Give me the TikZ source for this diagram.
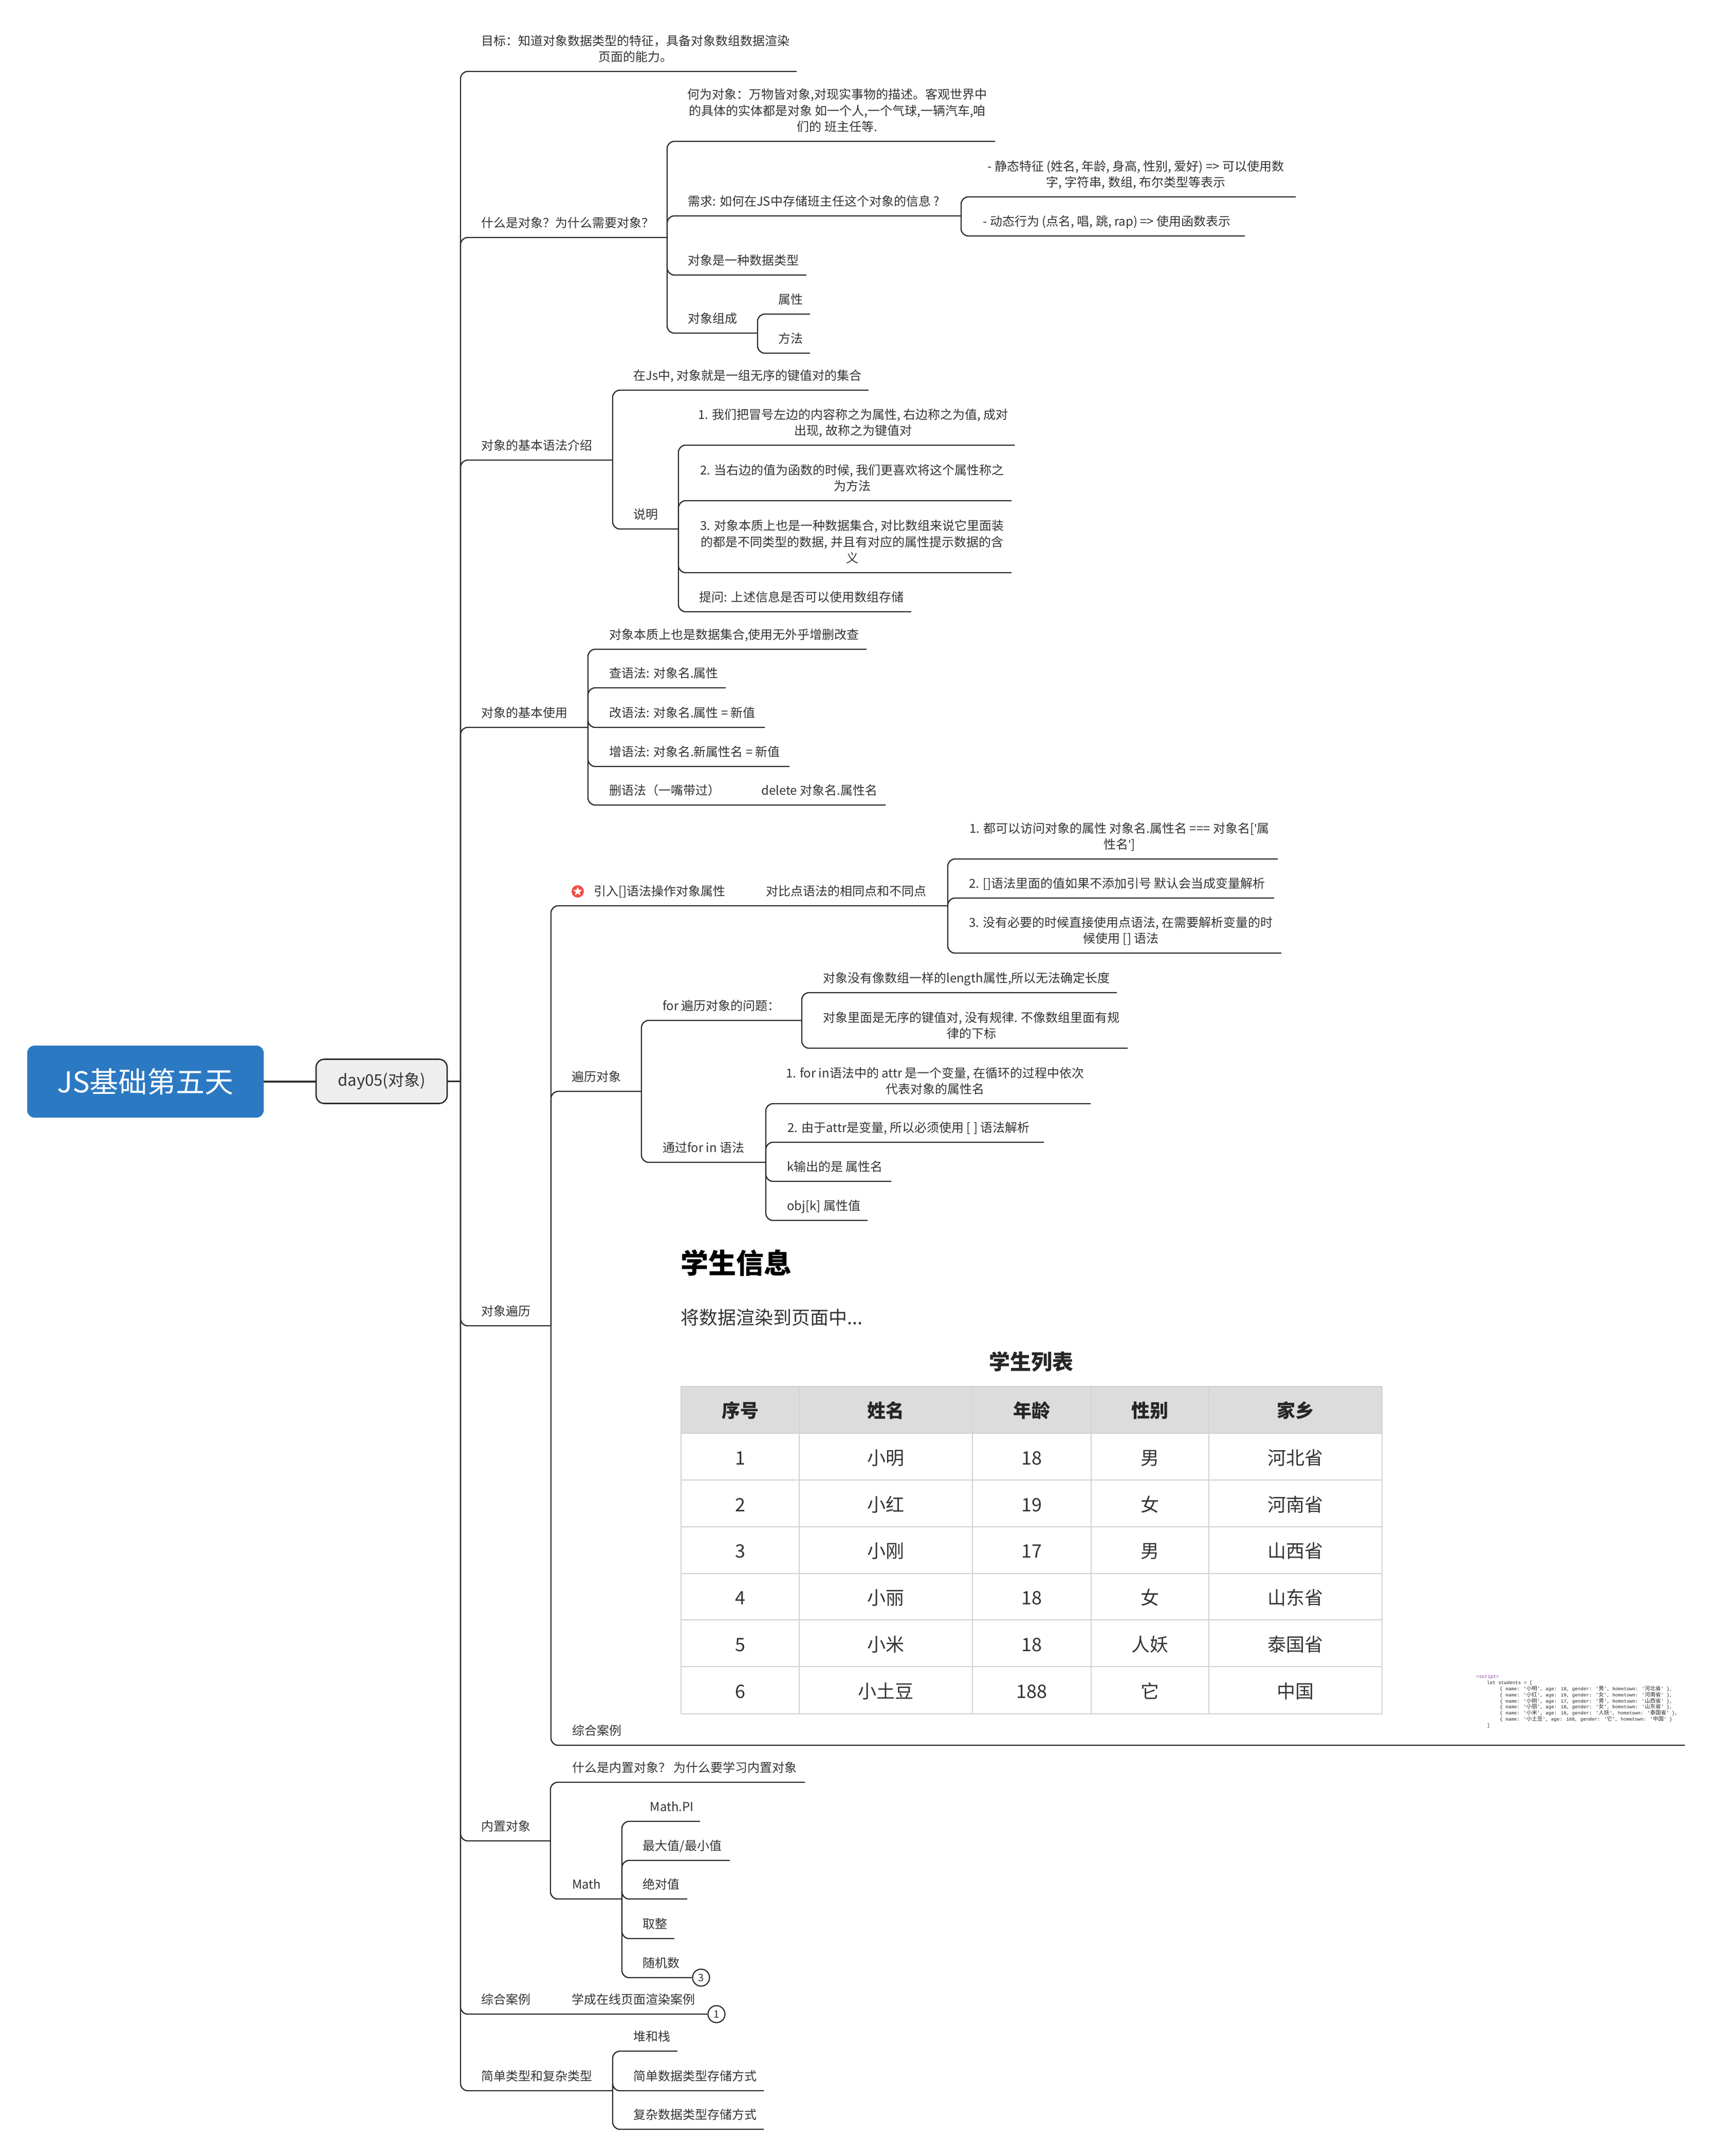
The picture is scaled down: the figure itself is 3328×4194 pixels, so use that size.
\documentclass[tikz,border=0pt]{standalone}
\usepackage{fontspec}
\usetikzlibrary{shapes.geometric}
\setmainfont{Noto Sans CJK SC}
\newfontfamily\zhcode{Noto Sans CJK SC}
\newfontfamily\codefont{Liberation Mono}
\newfontfamily\quotefont{Open Sans}
\definecolor{ink}{HTML}{333333}
\definecolor{linec}{HTML}{2B2B2B}
\definecolor{rootblue}{HTML}{2B79C2}
\definecolor{dayfill}{HTML}{EEEEEE}
\definecolor{gridc}{HTML}{D2D2D2}
\definecolor{headc}{HTML}{DCDCDC}
\definecolor{scriptc}{HTML}{8A3A9A}
\definecolor{badgec}{HTML}{F44B42}
\tikzset{
  link/.style={draw=linec,line width=2.3pt,rounded corners=14pt},
  lbl/.style={inner sep=0pt,text=ink,align=center,font=\fontsize{24}{31.5}\selectfont},
  cellt/.style={inner sep=0pt,text=ink,anchor=base,font=\fontsize{36}{40}\selectfont},
  headt/.style={inner sep=0pt,text=black!85,anchor=base,font=\fontsize{36}{40}\selectfont\bfseries},
  codet/.style={inner sep=0pt,anchor=base west,text=black!85,font=\fontsize{9.2}{11}\codefont},
  count/.style={circle,draw=linec,line width=2.2pt,fill=white,minimum size=33pt,inner sep=0pt,text=ink,font=\fontsize{20}{22}\selectfont}
}
% name, line end x, line y, text left x, text
\newcommand{\topic}[5]{\coordinate (#1-e) at (#2,#3);\node[lbl,anchor=base west] (#1) at (#4,#3-19.5) {#5};}
% name, line end x, line y, text centre x, text
\newcommand{\topicc}[5]{\coordinate (#1-e) at (#2,#3);\node[lbl,anchor=base] (#1) at (#4,#3-19.5) {#5};}
\newcommand{\branch}[2]{\draw[link] (#1-e) |- (#2-e);}
\newcommand{\trow}[7]{%
 \node[cellt] (r#1a) at (1440,#2) {#3};
 \node[cellt] (r#1b) at (1723.5,#2) {#4};
 \node[cellt] (r#1c) at (2007,#2) {#5};
 \node[cellt] (r#1d) at (2237,#2) {#6};
 \node[cellt] (r#1e) at (2520.5,#2) {#7};}
\begin{document}
\begin{tikzpicture}[x=1pt,y=-1pt]
\fill[white] (0,0) rectangle (3328,4194);
\useasboundingbox (0,0) rectangle (3328,4194);

% centre
\node[fill=rootblue,rounded corners=14pt,minimum width=460pt,minimum height=140pt,inner sep=0pt,text=white,font=\fontsize{56}{60}\selectfont] (root) at (283,2104) {JS基础第五天};
\node[fill=dayfill,draw=linec,line width=2.6pt,rounded corners=16pt,minimum width=255pt,minimum height=86pt,inner sep=0pt,text=ink,font=\fontsize{31}{36}\selectfont] (day) at (742.5,2103.5) {day05(对象)};
\draw[ink,line width=4pt] (root.east|-day.west) -- (day.west);
\coordinate (day-e) at (896,2103.5);
\draw[link] (day.east) -- (day-e);

% level 1
\topicc{goal}{1550}{139}{1236}{目标：知道对象数据类型的特征，具备对象数组数据渲染\\页面的能力。}
\topic{what}{1298}{462}{936}{什么是对象？为什么需要对象？}
\topic{syntax}{1192}{895}{936}{对象的基本语法介绍}
\topic{basic}{1144}{1415}{936}{对象的基本使用}
\topic{trav}{1072}{2579}{936}{对象遍历}
\topic{builtin}{1071}{3581}{936}{内置对象}
\topic{caseb}{1394}{3918}{936}{综合案例}
\topic{simple}{1192}{4067}{936}{简单类型和复杂类型}
\foreach \c in {goal,what,syntax,basic,trav,builtin,simple}{\branch{day}{\c}}
\node[count] (count1) at (1394,3918) {1};
\draw[link] (day-e) |- (count1.west);
\node[lbl,anchor=base west] (caset) at (1112,3898.5) {学成在线页面渲染案例};

% what
\topicc{w1}{1936}{275}{1629}{何为对象：万物皆对象,对现实事物的描述。客观世界中\\的具体的实体都是对象 如一个人,一个气球,一辆汽车,咱\\们的 班主任等.}
\topic{w2}{1870}{420}{1338}{需求: 如何在JS中存储班主任这个对象的信息 ?}
\topic{w3}{1569}{535}{1338}{对象是一种数据类型}
\topic{w4}{1474}{648}{1338}{对象组成}
\foreach \c in {w1,w2,w3,w4}{\branch{what}{\c}}
\topicc{w2a}{2521}{383}{2210}{- 静态特征 (姓名, 年龄, 身高, 性别, 爱好) => 可以使用数\\字, 字符串, 数组, 布尔类型等表示}
\topic{w2b}{2422}{459}{1912.5}{- 动态行为 (点名, 唱, 跳, rap) => 使用函数表示}
\branch{w2}{w2a}\branch{w2}{w2b}
\topic{w4a}{1576}{611}{1514.5}{属性}
\topic{w4b}{1576}{687}{1514.5}{方法}
\branch{w4}{w4a}\branch{w4}{w4b}

% syntax
\topic{s1}{1690}{759}{1232.5}{在Js中, 对象就是一组无序的键值对的集合}
\topic{s2}{1320}{1029}{1232.5}{说明}
\branch{syntax}{s1}\branch{syntax}{s2}
\topicc{s2a}{1974}{866}{1660}{1. 我们把冒号左边的内容称之为属性, 右边称之为值, 成对\\出现, 故称之为键值对}
\topicc{s2b}{1968}{974}{1658}{2. 当右边的值为函数的时候, 我们更喜欢将这个属性称之\\为方法}
\topicc{s2c}{1968}{1114}{1658}{3. 对象本质上也是一种数据集合, 对比数组来说它里面装\\的都是不同类型的数据, 并且有对应的属性提示数据的含\\义}
\topic{s2d}{1773}{1190}{1360.5}{提问: 上述信息是否可以使用数组存储}
\foreach \c in {s2a,s2b,s2c,s2d}{\branch{s2}{\c}}

% basic
\topic{b1}{1686}{1263}{1185}{对象本质上也是数据集合,使用无外乎增删改查}
\topic{b2}{1412}{1338}{1185}{查语法: 对象名.属性}
\topic{b3}{1488}{1415}{1185}{改语法: 对象名.属性 = 新值}
\topic{b4}{1536}{1491}{1185}{增语法: 对象名.新属性名 = 新值}
\topic{b5}{1723}{1566}{1185}{删语法（一嘴带过）}
\node[lbl,anchor=base west] (b5t) at (1481,1546.5) {delete 对象名.属性名};
\foreach \c in {b1,b2,b3,b4,b5}{\draw[link] (basic-e) |- (\c-e);}

% traversal
\topic{t1}{1844}{1762}{1155.5}{引入[]语法操作对象属性}
\node[lbl,anchor=base west] (t1t) at (1490.6,1742.5) {对比点语法的相同点和不同点};
\node[circle,fill=badgec,minimum size=24pt,inner sep=0pt] (badge) at (1124,1734) {};
\node[star,star points=5,star point ratio=2.2,fill=white,minimum size=18pt,inner sep=0pt] (badgestar) at (1124,1734) {};
\topic{t2}{1248}{2123}{1112}{遍历对象}
\topic{t3}{3278}{3395}{1113}{综合案例}
\foreach \c in {t1,t2,t3}{\branch{trav}{\c}}
\topicc{t1a}{2486}{1671}{2178}{1. 都可以访问对象的属性 对象名.属性名 === 对象名[{\quotefont '}属\\性名{\quotefont '}]}
\topic{t1b}{2479}{1747}{1885}{2. []语法里面的值如果不添加引号 默认会当成变量解析}
\topicc{t1c}{2493}{1854}{2181}{3. 没有必要的时候直接使用点语法, 在需要解析变量的时\\候使用 [] 语法}
\foreach \c in {t1a,t1b,t1c}{\branch{t1}{\c}}
\topic{t2a}{1560}{1985}{1289}{for 遍历对象的问题：}
\topic{t2b}{1490}{2261}{1289}{通过for in 语法}
\branch{t2}{t2a}\branch{t2}{t2b}
\topic{t2a1}{2173}{1931}{1601}{对象没有像数组一样的length属性,所以无法确定长度}
\topicc{t2a2}{2194}{2039}{1890}{对象里面是无序的键值对, 没有规律. 不像数组里面有规\\律的下标}
\branch{t2a}{t2a1}\branch{t2a}{t2a2}
\topicc{t2b1}{2122}{2147}{1819}{1. for in语法中的 attr 是一个变量, 在循环的过程中依次\\代表对象的属性名}
\topic{t2b2}{2031}{2222}{1532}{2. 由于attr是变量, 所以必须使用 [ ] 语法解析}
\topic{t2b3}{1734}{2298}{1531}{k输出的是 属性名}
\topic{t2b4}{1688}{2374}{1531}{obj[k] 属性值}
\foreach \c in {t2b1,t2b2,t2b3,t2b4}{\branch{t2b}{\c}}

% embedded page image
\node[inner sep=0pt,anchor=base west,text=black,font=\fontsize{54}{58}\selectfont\bfseries] (h1) at (1324,2477) {学生信息};
\node[inner sep=0pt,anchor=base west,text=ink,font=\fontsize{36}{40}\selectfont] (h2) at (1324,2576) {将数据渲染到页面中...};
\node[inner sep=0pt,anchor=base,text=black!85,font=\fontsize{41}{45}\selectfont\bfseries] (h3) at (2006,2664) {学生列表};
\fill[headc] (1324.5,2697) rectangle (2689,2788);
\foreach \yy in {2697,2788,2879,2970,3060.5,3151,3242,3333.5}{\draw[gridc,line width=2pt] (1324.5,\yy) -- (2689,\yy);}
\foreach \xx in {1324.5,1555,1892,2122.5,2352,2689}{\draw[gridc,line width=2pt] (\xx,2697) -- (\xx,3333.5);}
\node[headt] (ha) at (1440,2757) {序号};
\node[headt] (hb) at (1723.5,2757) {姓名};
\node[headt] (hc) at (2007,2757) {年龄};
\node[headt] (hd) at (2237,2757) {性别};
\node[headt] (he) at (2520.5,2757) {家乡};
\trow{1}{2849}{1}{小明}{18}{男}{河北省}
\trow{2}{2940}{2}{小红}{19}{女}{河南省}
\trow{3}{3030.5}{3}{小刚}{17}{男}{山西省}
\trow{4}{3121}{4}{小丽}{18}{女}{山东省}
\trow{5}{3212}{5}{小米}{18}{人妖}{泰国省}
\trow{6}{3303}{6}{小土豆}{188}{它}{中国}

% embedded code
\node[codet,text=scriptc] (c0) at (2872,3264) {<script>};
\node[codet] (c1) at (2893,3276) {let students = [};
\node[codet] (c2) at (2918,3288) {\{ name: '{\zhcode\fontsize{10.5}{11}\selectfont 小明}', age: 18, gender: '{\zhcode\fontsize{10.5}{11}\selectfont 男}', hometown: '{\zhcode\fontsize{10.5}{11}\selectfont 河北省}' \},};
\node[codet] (c3) at (2918,3300) {\{ name: '{\zhcode\fontsize{10.5}{11}\selectfont 小红}', age: 19, gender: '{\zhcode\fontsize{10.5}{11}\selectfont 女}', hometown: '{\zhcode\fontsize{10.5}{11}\selectfont 河南省}' \},};
\node[codet] (c4) at (2918,3312) {\{ name: '{\zhcode\fontsize{10.5}{11}\selectfont 小刚}', age: 17, gender: '{\zhcode\fontsize{10.5}{11}\selectfont 男}', hometown: '{\zhcode\fontsize{10.5}{11}\selectfont 山西省}' \},};
\node[codet] (c5) at (2918,3323.5) {\{ name: '{\zhcode\fontsize{10.5}{11}\selectfont 小丽}', age: 18, gender: '{\zhcode\fontsize{10.5}{11}\selectfont 女}', hometown: '{\zhcode\fontsize{10.5}{11}\selectfont 山东省}' \},};
\node[codet] (c6) at (2918,3335.5) {\{ name: '{\zhcode\fontsize{10.5}{11}\selectfont 小米}', age: 18, gender: '{\zhcode\fontsize{10.5}{11}\selectfont 人妖}', hometown: '{\zhcode\fontsize{10.5}{11}\selectfont 泰国省}' \},};
\node[codet] (c7) at (2918,3347) {\{ name: '{\zhcode\fontsize{10.5}{11}\selectfont 小土豆}', age: 188, gender: '{\zhcode\fontsize{10.5}{11}\selectfont 它}', hometown: '{\zhcode\fontsize{10.5}{11}\selectfont 中国}' \}};
\node[codet] (c8) at (2893,3359) {]};

% built-in
\topic{i1}{1566}{3467}{1113}{什么是内置对象？ 为什么要学习内置对象}
\topic{i2}{1210}{3694}{1113}{Math}
\branch{builtin}{i1}\branch{builtin}{i2}
\topic{m1}{1362}{3543}{1264.5}{Math.PI}
\topic{m2}{1420}{3619}{1250.5}{最大值/最小值}
\topic{m3}{1337}{3694}{1250.5}{绝对值}
\topic{m4}{1312}{3771}{1250.5}{取整}
\topic{m5}{1364}{3847}{1250.5}{随机数}
\foreach \c in {m1,m2,m3,m4}{\branch{i2}{\c}}
\node[count] (count3) at (1364,3847) {3};
\draw[link] (i2-e) |- (count3.west);

% simple / complex
\topic{p1}{1318}{3990}{1232.7}{堆和栈}
\topic{p2}{1486}{4067}{1232.7}{简单数据类型存储方式}
\topic{p3}{1486}{4142}{1232.7}{复杂数据类型存储方式}
\foreach \c in {p1,p2,p3}{\branch{simple}{\c}}
\end{tikzpicture}
\end{document}
